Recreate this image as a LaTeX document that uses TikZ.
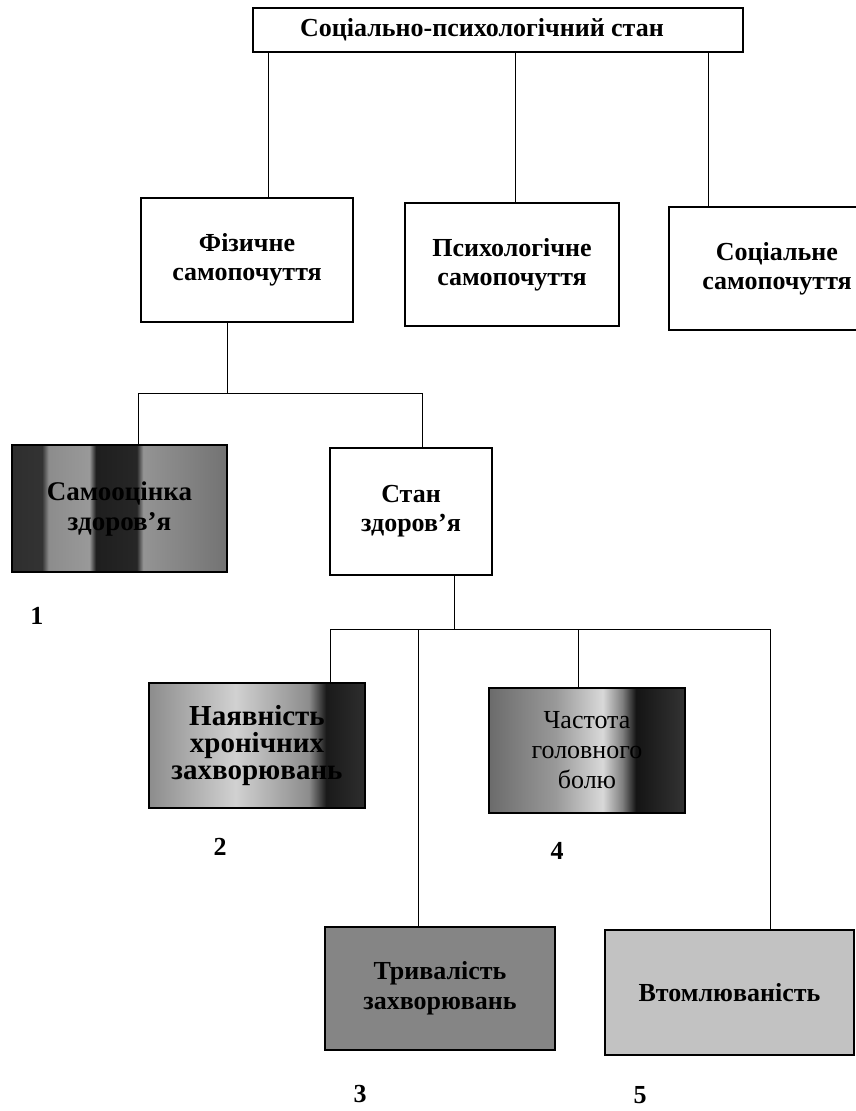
\documentclass[tikz,border=0pt]{standalone}
\usepackage{fontspec}
\setmainfont{Liberation Serif}
\usetikzlibrary{positioning}

% scanned grey fills of the lower boxes
\pgfdeclarehorizontalshading{selfshade}{100bp}{color(0bp)=(black!82); color(25bp)=(black!82);
  color(32bp)=(black!80); color(33.5bp)=(black!45); color(43bp)=(black!40); color(44.5bp)=(black!88);
  color(54bp)=(black!85); color(55.5bp)=(black!42); color(75bp)=(black!55); color(100bp)=(black!55)}
\pgfdeclarehorizontalshading{chronicshade}{100bp}{color(0bp)=(black!45); color(25bp)=(black!45);
  color(45bp)=(black!18); color(62bp)=(black!45); color(66bp)=(black!90); color(75bp)=(black!82);
  color(100bp)=(black!82)}
\pgfdeclarehorizontalshading{headshade}{100bp}{color(0bp)=(black!58); color(25bp)=(black!58);
  color(42bp)=(black!40); color(54bp)=(black!15); color(59bp)=(black!50); color(62.5bp)=(black!92);
  color(75bp)=(black!80); color(100bp)=(black!80)}

\begin{document}
\begin{tikzpicture}[
  x=1pt, y=-1pt,
  box/.style={draw, line width=1.2pt, align=center, inner sep=0pt,
    font=\bfseries\fontsize{26}{29}\selectfont},
  link/.style={line width=1pt},
  num/.style={font=\bfseries\fontsize{26}{28}\selectfont}
]
\useasboundingbox[fill=white] (0,0) rectangle (856,1111);
\clip (0,0) rectangle (856,1111);

% Top level
\node[box, minimum width=490pt, minimum height=44pt] (root) at (498,30) {Соціально-психологічний стан\hspace*{32pt}};

\node[box, minimum width=212pt, minimum height=124pt] (phys) at (247,260) {Фізичне\\самопочуття};
\node[box, minimum width=214pt, minimum height=123pt] (psych) at (512,264.5) {Психологічне\\самопочуття};
\node[box, minimum width=216pt, minimum height=123pt] (soc) at (777,268.5) {Соціальне\\самопочуття};

% Physical branch
\node[box, shade, shading=selfshade, minimum width=215pt, minimum height=127pt,
  font=\bfseries\fontsize{27}{30}\selectfont] (selfest) at (119.5,508.5) {Самооцінка\\здоров’я};
\node[box, minimum width=162pt, minimum height=127pt] (health) at (411,511.5) {Стан\\здоров’я};

% Health indicators
\node[box, shade, shading=chronicshade, minimum width=216pt, minimum height=125pt,
  font=\bfseries\fontsize{29}{27}\selectfont] (chronic) at (257,745.5) {Наявність\\хронічних\\захворювань};
\node[box, shade, shading=headshade, minimum width=196pt, minimum height=125pt,
  font=\fontsize{26}{30}\selectfont] (headache) at (587,750.5) {Частота\\головного\\болю};
\node[box, fill=black!48, minimum width=230pt, minimum height=123pt,
  font=\bfseries\fontsize{26}{30}\selectfont] (duration) at (440,988.5) {Тривалість\\захворювань};
\node[box, fill=black!24, minimum width=249pt, minimum height=125pt] (fatigue) at (729.5,992.5) {Втомлюваність};

% Numbers
\node[num] (n1) at (37,616) {1};
\node[num] (n2) at (220,847) {2};
\node[num] (n4) at (557,851) {4};
\node[num] (n3) at (360,1094) {3};
\node[num] (n5) at (640,1095) {5};

% Connectors
\draw[link] ([xshift=21]phys.north) -- ([xshift=21]phys.north |- root.south);
\draw[link] ([xshift=3]psych.north) -- ([xshift=3]psych.north |- root.south);
\draw[link] ([xshift=-69]soc.north) -- ([xshift=-69]soc.north |- root.south);

\coordinate (bus1) at (227,393);
\draw[link] ([xshift=-20]phys.south) -- (bus1);
\draw[link] ([xshift=18.5]selfest.north) |- ([xshift=11]health.north |- bus1) -- ([xshift=11]health.north);

\coordinate (bus2) at (454,629);
\draw[link] ([xshift=43]health.south) -- (bus2);
\draw[link] ([xshift=73]chronic.north) |- ([xshift=40.5]fatigue.north |- bus2) -- ([xshift=40.5]fatigue.north);
\draw[link] ([xshift=-22]duration.north) -- ([xshift=-22]duration.north |- bus2);
\draw[link] ([xshift=-9]headache.north) -- ([xshift=-9]headache.north |- bus2);

\end{tikzpicture}
\end{document}
